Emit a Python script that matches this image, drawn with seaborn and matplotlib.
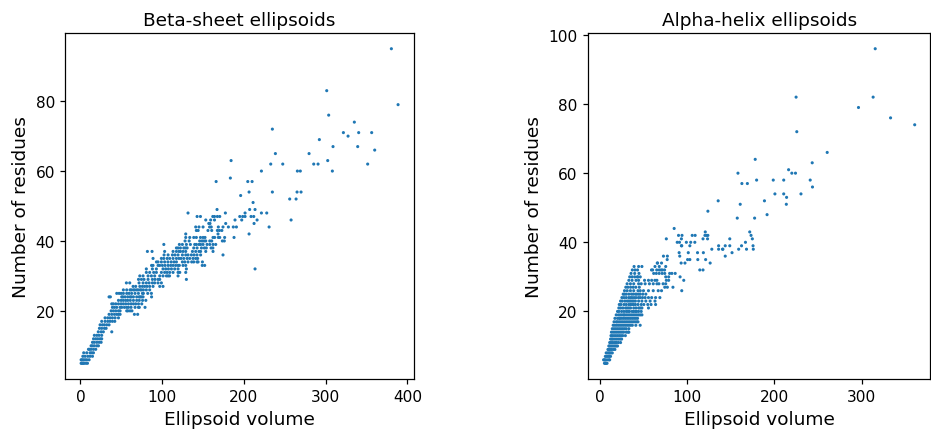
import matplotlib
matplotlib.use("Agg")
import matplotlib.pyplot as plt
import seaborn as sns
import pandas as pd

# ---- Beta-sheet ellipsoids: residue count -> ellipsoid volumes at that count
beta_residues = [5, 6, 7, 8, 9, 10, 11, 12, 13, 14, 15, 16, 17, 18, 19, 20,
                 21, 22, 23, 24, 25, 26, 27, 28, 29, 30, 31, 32, 33, 34, 35,
                 36, 37, 38, 39, 40, 41, 42, 43, 44, 45, 46, 47, 48, 49, 51,
                 52, 53, 54, 57, 58, 60, 62, 63, 65, 66, 67, 69, 70, 71, 72,
                 74, 76, 79, 83, 95]
beta_volumes = [
    [0.8, 1.5, 2.9, 3.5, 4.9, 6.9, 8.6],
    [0.8, 2.0, 3.7, 5.7, 7.8, 10.6],
    [2.9, 5.7, 9.0, 11.8, 14.7],
    [4.0, 7.7, 11.8, 13.8, 15.9],
    [9.8, 11.0, 13.0, 15.9, 18.7],
    [13.0, 14.7, 17.0, 20.0, 22.0],
    [14.7, 17.0, 20.0, 22.8, 25.3],
    [16.0, 18.7, 21.2, 24.0, 26.0],
    [17.0, 20.0, 22.8, 26.0],
    [21.8, 25.3, 28.0, 38.3],
    [23.2, 26.0, 29.3, 31.4],
    [24.0, 26.9, 29.3, 32.2, 35.0],
    [26.0, 30.1, 33.4, 36.2, 39.1, 42.0],
    [30.1, 33.4, 36.2, 39.1, 42.4, 46.5],
    [35.0, 38.3, 41.6, 44.4, 46.5, 48.5, 66.0, 70.0],
    [37.5, 40.3, 43.2, 46.5, 48.5, 56.6, 58.0, 60.7, 63.0],
    [39.1, 41.6, 44.4, 48.5, 50.5, 53.8, 56.6, 58.7, 61.9, 66.8, 70.9, 72.0, 79.0],
    [38.3, 40.3, 43.2, 46.5, 49.7, 52.5, 55.4, 58.7, 61.9, 64.8, 67.6, 71.0, 75.0],
    [46.5, 49.7, 52.5, 55.4, 57.8, 61.0, 64.8, 68.8, 72.0, 76.0, 80.0],
    [35.0, 36.6, 50.5, 52.0, 54.6, 57.8, 60.7, 62.3, 64.8, 68.8, 71.7, 73.0, 74.6, 76.6, 87.0],
    [44.4, 47.3, 49.7, 52.5, 56.6, 59.5, 62.7, 66.8, 70.9, 75.8, 77.0, 82.3, 86.8],
    [52.5, 56.6, 60.7, 62.3, 64.8, 66.4, 68.8, 70.5, 73.0, 74.6, 77.0, 80.6, 84.7],
    [64.4, 67.6, 72.6, 75.8, 78.6, 81.5, 84.7, 88.8, 97.0, 101.0],
    [56.2, 60.3, 71.7, 76.6, 80.6, 84.0, 88.0, 90.8, 94.9, 99.0],
    [71.0, 74.6, 77.8, 82.7, 88.0, 91.2, 94.9, 97.0, 129.6],
    [72.6, 76.6, 82.7, 86.8, 90.8, 97.0, 101.0, 105.2, 107.2, 109.0, 119.4],
    [80.6, 84.7, 89.6, 92.9, 99.0, 103.0, 106.0, 109.2, 113.3, 119.4, 121.5, 128.8],
    [80.6, 88.0, 92.9, 101.0, 104.3, 107.6, 111.3, 115.3, 119.4, 129.6, 213.6],
    [87.0, 88.8, 94.9, 97.0, 100.2, 103.5, 107.2, 110.4, 113.3, 116.5, 119.4, 121.0,
     125.5, 128.8, 149.0, 152.0],
    [93.0, 94.9, 99.0, 103.0, 107.0, 111.0, 114.5, 117.4, 124.7, 127.6, 131.6, 136.1,
     138.6, 142.6, 143.9, 149.2],
    [88.8, 99.0, 101.9, 106.0, 109.2, 113.3, 117.4, 120.6, 123.0, 126.4, 130.5, 133.7,
     137.7, 141.0, 143.4],
    [102.3, 107.2, 112.5, 115.7, 119.4, 124.7, 128.8, 131.6, 135.7, 139.0, 142.6, 147.0, 174.4],
    [81.9, 87.6, 103.0, 113.3, 117.4, 120.6, 122.3, 125.5, 128.8, 137.0, 141.0, 145.0,
     147.0, 153.3, 162.2],
    [117.4, 119.4, 122.3, 126.4, 128.5, 130.5, 138.6, 142.7, 148.0, 151.6, 154.0, 159.8, 162.0],
    [102.0, 121.0, 124.7, 129.6, 134.5, 139.8, 141.8, 145.0, 147.0, 150.0, 154.9, 158.2,
     162.2, 165.5],
    [128.0, 133.0, 145.9, 148.8, 151.2, 153.3, 158.2, 160.6, 173.6, 176.0],
    [128.8, 133.7, 138.6, 141.8, 146.8, 150.0, 152.4, 162.2, 164.2, 168.7, 170.4, 176.4, 187.9],
    [128.8, 168.3, 206.3],
    [141.8, 144.0, 156.0, 160.6, 167.5, 170.0, 173.0],
    [141.0, 145.0, 150.0, 158.0, 160.0, 168.7, 174.4, 181.0, 187.0, 190.8, 230.8],
    [157.0, 158.5, 177.7, 212.4],
    [153.3, 159.3, 164.0, 189.1, 197.3, 216.1, 257.7],
    [142.7, 146.8, 161.9, 164.0, 167.5, 170.4, 194.9, 198.5, 201.4, 208.7, 212.0],
    [131.6, 177.3, 201.4, 221.4, 227.9],
    [167.1, 207.0, 213.6],
    [211.2],
    [256.0, 263.8],
    [196.0],
    [206.3, 234.8, 265.0, 269.9],
    [166.0, 204.7, 210.0],
    [183.4],
    [221.4, 265.4, 269.0, 308.2],
    [232.8, 247.5, 285.4, 290.7, 351.4],
    [184.3, 302.5],
    [238.5, 279.7],
    [360.0],
    [309.0, 339.2],
    [292.3],
    [327.4],
    [321.7, 340.4, 356.3],
    [234.8],
    [335.1],
    [303.7],
    [388.6],
    [301.3],
    [380.4],
]

# ---- Alpha-helix ellipsoids
alpha_residues = [5, 6, 7, 8, 9, 10, 11, 12, 13, 14, 15, 16, 17, 18, 19, 20,
                  21, 22, 23, 24, 25, 26, 27, 28, 29, 30, 31, 32, 33, 34, 35,
                  36, 37, 38, 39, 40, 41, 42, 43, 44, 47, 48, 49, 51, 52, 53,
                  54, 56, 57, 58, 60, 61, 63, 64, 66, 72, 74, 76, 79, 82, 96]
alpha_volumes = [
    [5.0, 6.0, 6.5, 7.0, 8.0],
    [4.0, 5.0, 6.0, 8.0, 10.0, 11.0],
    [6.0, 7.5, 9.0, 10.5, 12.0],
    [7.0, 8.6, 10.0, 11.0, 12.5, 14.0],
    [9.0, 10.0, 11.5, 13.0, 15.0, 17.0],
    [10.0, 11.0, 12.5, 14.0, 15.5, 17.0, 18.5, 20.0],
    [11.0, 12.5, 14.0, 16.0, 17.5, 19.0, 21.0, 23.5],
    [12.0, 13.5, 15.0, 17.0, 19.0, 21.0, 23.0, 24.7],
    [12.5, 14.0, 16.0, 18.0, 20.0, 22.0, 24.0, 26.0, 29.0],
    [13.0, 15.0, 17.0, 19.0, 21.0, 23.0, 25.0, 27.0, 30.0, 32.0, 33.0],
    [14.0, 16.0, 18.0, 20.0, 22.0, 24.0, 26.0, 28.0, 30.0, 33.0],
    [15.0, 17.0, 19.0, 21.0, 23.0, 25.0, 27.0, 29.0, 31.0, 33.0, 35.0, 37.0, 41.0, 46.0],
    [16.0, 18.5, 20.0, 22.0, 24.0, 26.0, 28.0, 30.0, 32.0, 34.0, 36.0, 38.0, 40.0, 42.0, 43.5],
    [17.0, 20.0, 22.0, 23.0, 25.0, 27.0, 29.0, 31.0, 33.0, 35.0, 37.0, 39.0, 41.0, 43.0],
    [18.5, 21.0, 23.0, 25.0, 27.0, 28.0, 30.0, 32.0, 34.0, 36.0, 38.0, 40.0, 42.0, 44.0,
     46.0, 48.0],
    [20.0, 21.7, 24.7, 27.4, 30.0, 32.0, 33.7, 36.7, 38.5, 40.5, 42.0, 44.2, 47.2],
    [21.5, 23.6, 26.2, 29.2, 31.0, 33.0, 35.0, 38.6, 41.2, 44.2, 46.0, 48.0, 55.5],
    [22.0, 24.0, 27.4, 30.0, 33.0, 35.0, 36.7, 38.5, 40.5, 43.5, 47.2, 50.2, 54.7, 58.5, 63.7],
    [23.5, 25.5, 28.5, 31.1, 33.0, 34.8, 36.7, 38.5, 40.5, 44.2, 48.0, 52.5, 57.4, 63.0],
    [25.0, 27.4, 30.0, 33.0, 35.0, 36.7, 39.0, 41.2, 44.0, 46.0, 48.7, 51.7, 55.5, 59.2,
     63.7, 68.6],
    [26.5, 28.0, 30.0, 33.0, 36.0, 38.0, 40.5, 42.0, 44.2, 46.0, 49.0, 52.5],
    [28.0, 31.1, 34.8, 38.6, 43.5, 46.1, 49.8, 55.5, 61.0, 66.7, 70.5, 93.7],
    [29.5, 32.0, 35.0, 38.0, 41.0, 45.0, 74.2, 77.2, 83.6],
    [31.0, 34.8, 38.6, 44.2, 47.2, 51.7, 56.6, 61.0, 65.2, 67.5, 72.3, 75.3],
    [33.0, 36.7, 41.2, 44.2, 51.0, 55.5, 59.2, 62.9, 65.2, 76.0, 78.7, 96.0],
    [34.0, 36.7, 39.7, 42.7, 43.5, 46.1, 75.3, 78.7, 91.8],
    [35.5, 39.7, 44.6, 61.5, 64.5, 67.8, 71.2, 74.2, 79.8, 82.4, 86.2],
    [37.0, 40.0, 43.0, 59.0, 60.3, 65.0, 67.8, 70.0, 71.5, 74.0, 114.4, 118.1],
    [39.0, 44.2, 48.0, 63.0, 67.9, 75.3],
    [65.6, 66.0, 70.5, 93.0, 97.4, 126.3],
    [77.0, 100.4, 103.0, 112.1, 121.1],
    [72.7, 77.2, 91.4, 143.6],
    [90.7, 101.2, 111.8, 118.5, 151.4],
    [128.2, 136.0, 140.5, 140.9, 159.0, 168.0, 175.8],
    [93.3, 93.7, 103.0, 136.0, 143.6, 148.8, 162.3, 175.5],
    [88.5, 91.1, 99.0, 104.0, 108.7, 166.8],
    [76.0, 93.3, 118.1, 123.3, 148.8, 174.7],
    [90.0, 94.0, 105.7, 109.1, 120.3, 122.2, 123.7, 173.2],
    [120.7, 171.7],
    [85.0],
    [157.4, 177.3],
    [191.6],
    [123.7],
    [160.8, 213.7],
    [135.5, 188.6],
    [214.0],
    [200.6, 210.7, 230.5],
    [243.7],
    [162.7, 169.0],
    [179.6, 198.7, 210.7, 241.1],
    [158.2, 220.0, 224.2],
    [216.3],
    [243.4],
    [178.0],
    [260.6],
    [225.7],
    [361.0],
    [333.3],
    [296.5],
    [224.9, 313.3],
    [315.7],
]

titles = ["Beta-sheet ellipsoids", "Alpha-helix ellipsoids"]
x_label = "Ellipsoid volume"
y_label = "Number of residues"
beta_xticks = [0, 100, 200, 300, 400]
alpha_xticks = [0, 100, 200, 300]
beta_yticks = [20, 40, 60, 80]
alpha_yticks = [20, 40, 60, 80, 100]


def to_frame(residues, volumes):
    rows = []
    for r, vols in zip(residues, volumes):
        for v in vols:
            rows.append({"volume": v, "residues": r})
    return pd.DataFrame(rows)


beta_df = to_frame(beta_residues, beta_volumes)
alpha_df = to_frame(alpha_residues, alpha_volumes)

scale = 1.11
plt.rcParams["axes.linewidth"] = 0.8 * scale
plt.rcParams["xtick.major.width"] = 0.8 * scale
plt.rcParams["ytick.major.width"] = 0.8 * scale
plt.rcParams["xtick.major.size"] = 3.5 * scale
plt.rcParams["ytick.major.size"] = 3.5 * scale

fig = plt.figure(figsize=(9.31, 4.31), dpi=100)
ax1 = fig.add_axes([0.0701, 0.1183, 0.3745, 0.8028])
ax2 = fig.add_axes([0.6316, 0.1183, 0.3676, 0.8028])

for ax, df, title, xt, yt in zip([ax1, ax2], [beta_df, alpha_df], titles,
                                 [beta_xticks, alpha_xticks],
                                 [beta_yticks, alpha_yticks]):
    sns.scatterplot(data=df, x="volume", y="residues", ax=ax, s=5,
                    color="#1f77b4", linewidth=0, edgecolor="none")
    ax.set_title(title, fontsize=13.3)
    ax.set_xlabel(x_label, fontsize=13.3)
    ax.set_ylabel(y_label, fontsize=13.3)
    ax.set_xticks(xt)
    ax.set_yticks(yt)
    ax.tick_params(labelsize=11.1)

fig.savefig("out.png", dpi=100)
